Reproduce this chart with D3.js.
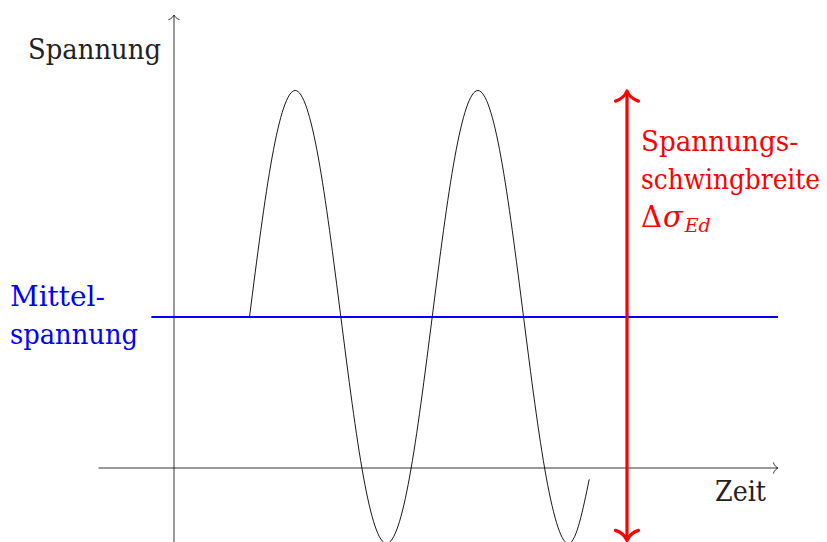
<!DOCTYPE html>
<html>
<head>
<meta charset="utf-8">
<script src="https://cdn.jsdelivr.net/npm/d3@7"></script>
<style>
  html, body { margin: 0; padding: 0; background: #fff; }
  svg { display: block; }
</style>
</head>
<body>
<svg id="chart" width="827" height="542"></svg>
<script>
// Stress cycle: time vs. stress (schematic units)
const waveTime   = [1.00, 1.30, 1.605, 1.91, 2.21, 2.51, 2.815, 3.12, 3.42, 3.72, 4.025, 4.33, 4.63, 4.93, 5.235, 5.50];
const waveStress = [2.00, 4.12, 5.00, 4.12, 2.00, -0.12, -1.00, -0.12, 2.00, 4.12, 5.00, 4.12, 2.00, -0.12, -1.00, -0.15];

// Mean stress line and the stress range marker
const meanStress = 2.0;
const meanSpan = [-0.3, 8.0];
const rangeTime = 6.0;
const rangeStress = [5.0, -1.0];

// Axis extents
const xAxisSpan = [-1.0, 8.0];
const yAxisSpan = [-1.2, 6.0];

// Labels
const yLabel = "Spannung";
const xLabel = "Zeit";
const meanLabel = ["Mittel-", "spannung"];
const rangeLabel = ["Spannungs-", "schwingbreite"];

const serif = "DejaVu Serif";

const svg = d3.select("#chart");
const unit = 75.5;
const x = d3.scaleLinear().domain([0, 1]).range([174, 174 + unit]);
const y = d3.scaleLinear().domain([0, 1]).range([468, 468 - unit]);

// Open "to"-style arrow tip pointing along +x, tip at origin
function tipPath(s) {
  return `M${-4.6*s},${-5.2*s} C${-3.6*s},${-2.2*s} ${-1.2*s},${-0.5*s} 0,0 ` +
         `C${-1.2*s},${0.5*s} ${-3.6*s},${2.2*s} ${-4.6*s},${5.2*s}`;
}
function drawTip(g, px, py, angle, s, color, w) {
  g.append("path")
    .attr("d", tipPath(s))
    .attr("transform", `translate(${px},${py}) rotate(${angle})`)
    .attr("fill", "none")
    .attr("stroke", color)
    .attr("stroke-width", w)
    .attr("stroke-linecap", "round")
    .attr("stroke-linejoin", "round");
}

const axes = svg.append("g");
// x axis
axes.append("line")
  .attr("x1", x(xAxisSpan[0])).attr("x2", x(xAxisSpan[1]) - 0.5)
  .attr("y1", y(0)).attr("y2", y(0))
  .attr("stroke", "#000").attr("stroke-width", 0.8);
drawTip(axes, x(xAxisSpan[1]), y(0), 0, 1, "#000", 0.8);
// y axis
axes.append("line")
  .attr("x1", x(0)).attr("x2", x(0))
  .attr("y1", y(yAxisSpan[0])).attr("y2", y(yAxisSpan[1]) + 0.5)
  .attr("stroke", "#000").attr("stroke-width", 0.8);
drawTip(axes, x(0), y(yAxisSpan[1]), -90, 1, "#000", 0.8);

// Stress curve
const pts = waveTime.map((t, i) => [t, waveStress[i]]);
svg.append("path")
  .datum(pts)
  .attr("d", d3.line().x(d => x(d[0])).y(d => y(d[1])).curve(d3.curveNatural))
  .attr("fill", "none")
  .attr("stroke", "#000")
  .attr("stroke-width", 0.9);

// Mean stress line
svg.append("line")
  .attr("x1", x(meanSpan[0])).attr("x2", x(meanSpan[1]))
  .attr("y1", y(meanStress)).attr("y2", y(meanStress))
  .attr("stroke", "#0000ff").attr("stroke-width", 2);

// Stress range double arrow
const red = svg.append("g");
red.append("line")
  .attr("x1", x(rangeTime)).attr("x2", x(rangeTime))
  .attr("y1", y(rangeStress[0]) + 1.5).attr("y2", y(rangeStress[1]) - 4)
  .attr("stroke", "#ff0000").attr("stroke-width", 3.2);
drawTip(red, x(rangeTime), y(rangeStress[0]) + 0.5, -90, 2.2, "#ff0000", 3.2);
drawTip(red, x(rangeTime), y(rangeStress[1]) - 3, 90, 2.2, "#ff0000", 3.2);

// Text labels
function label(txt, px, py, color, width) {
  const t = svg.append("text")
    .attr("x", px).attr("y", py)
    .attr("fill", color)
    .style("font-family", serif)
    .attr("font-size", 28)
    .text(txt);
  if (width) t.attr("textLength", width).attr("lengthAdjust", "spacingAndGlyphs");
  return t;
}
label(yLabel, 28, 59, "#222", 133);
label(xLabel, 715, 501, "#222", 51);
label(meanLabel[0], 10, 306, "#0000ff", 95);
label(meanLabel[1], 10, 344, "#0000ff", 128);
label(rangeLabel[0], 641, 151, "#ff0000", 157);
label(rangeLabel[1], 641, 189, "#ff0000", 179);

const delta = svg.append("text")
  .attr("x", 641).attr("y", 227)
  .attr("fill", "#ff0000")
  .style("font-family", serif)
  .attr("font-size", 29);
delta.append("tspan").text("Δ");
delta.append("tspan").attr("font-style", "italic").attr("dx", 1).text("σ");
delta.append("tspan").attr("font-style", "italic").attr("font-size", 19)
  .attr("dx", 2).attr("dy", 5).text("Ed");
</script>
</body>
</html>
